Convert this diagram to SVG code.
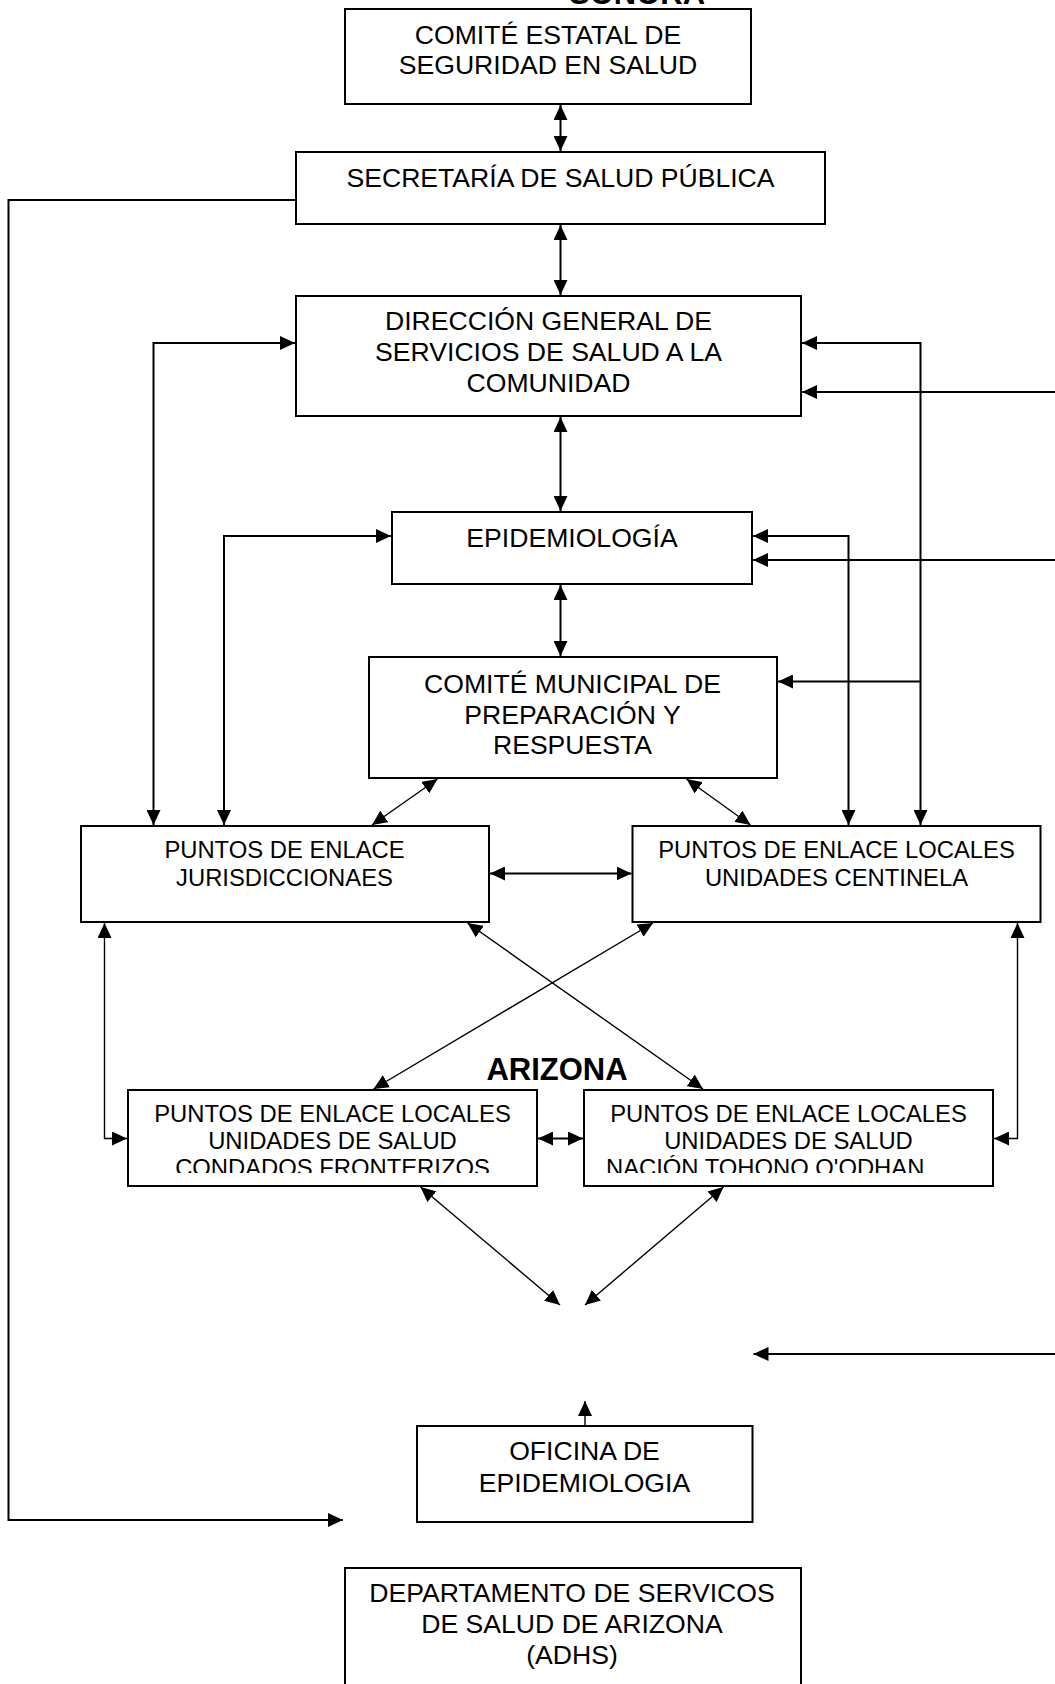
<svg xmlns="http://www.w3.org/2000/svg" width="1055" height="1684" viewBox="0 0 1055 1684">
<style>
.box{fill:#fff;stroke:#000;stroke-width:2}
.t{font-family:"Liberation Sans",Arial,sans-serif;font-size:26.6px;fill:#000;text-anchor:middle}
.s{font-family:"Liberation Sans",Arial,sans-serif;font-size:23.8px;fill:#000;text-anchor:middle}
.h{font-family:"Liberation Sans",Arial,sans-serif;font-size:31px;font-weight:bold;fill:#000;text-anchor:middle}
.c{fill:none;stroke:#000;stroke-width:2}
.d{fill:none;stroke:#000;stroke-width:1.4}
.e{marker-end:url(#ah)}
.b{marker-start:url(#ah);marker-end:url(#ah)}
</style>
<defs>
<marker id="ah" viewBox="0 0 15 14" refX="15" refY="7" markerWidth="15" markerHeight="14" markerUnits="userSpaceOnUse" orient="auto-start-reverse">
<path d="M0,0 L15,7 L0,14 Z" fill="#000"/>
</marker>
<clipPath id="clipL"><rect x="128" y="1090" width="409" height="83"/></clipPath>
<clipPath id="clipR"><rect x="584" y="1090" width="409" height="83"/></clipPath>
</defs>
<rect width="1055" height="1684" fill="#fff"/>

<g id="labels">
<text class="h" x="637" y="4">SONORA</text>
<text class="h" x="557" y="1080">ARIZONA</text>
</g>

<g id="connectors">
<line class="c b" x1="560.5" y1="105" x2="560.5" y2="151"/>
<line class="c b" x1="560.5" y1="225" x2="560.5" y2="295"/>
<line class="c b" x1="560.5" y1="417" x2="560.5" y2="511"/>
<line class="c b" x1="560.5" y1="585" x2="560.5" y2="656"/>
<path class="c b" d="M295 343 H153.5 V825"/>
<path class="c b" d="M391 536 H224 V825"/>
<path class="c b" d="M802 343 H920.5 V825"/>
<path class="c e" d="M920.5 681.5 H778"/>
<path class="c b" d="M753 536 H848.5 V825"/>
<path class="c e" d="M1055 392 H802"/>
<path class="c e" d="M1055 560 H753"/>
<path class="d b" d="M437.5 779 L372 825"/>
<path class="d b" d="M686.5 779 L750.5 825"/>
<path class="c b" d="M490 873.5 H631.5"/>
<path class="d b" d="M104.5 923 V1138.5 H127"/>
<path class="d b" d="M1017.5 923 V1138.5 H994"/>
<path class="d b" d="M467.5 923 L703 1089"/>
<path class="d b" d="M653 923 L373.5 1089"/>
<path class="c b" d="M538 1138.5 H583"/>
<path class="d b" d="M420.5 1187 L560 1305"/>
<path class="d b" d="M723.5 1187 L585 1305"/>
<path class="c e" d="M1055 1354 H753.5"/>
<path class="d e" d="M585 1425 V1401"/>
<path class="c e" d="M296 200 H8.5 V1520 H343"/>
</g>

<g id="n1">
<rect class="box" x="345" y="9" width="406" height="95"/>
<text class="t" x="548" y="43.5">COMITÉ ESTATAL DE</text>
<text class="t" x="548" y="73.5">SEGURIDAD EN SALUD</text>
</g>
<g id="n2">
<rect class="box" x="296" y="152" width="529" height="72"/>
<text class="t" x="560.5" y="187">SECRETARÍA DE SALUD PÚBLICA</text>
</g>
<g id="n3">
<rect class="box" x="296" y="296" width="505" height="120"/>
<text class="t" x="548.5" y="330">DIRECCIÓN GENERAL DE</text>
<text class="t" x="548.5" y="361">SERVICIOS DE SALUD A LA</text>
<text class="t" x="548.5" y="391.5">COMUNIDAD</text>
</g>
<g id="n4">
<rect class="box" x="392" y="512" width="360" height="72"/>
<text class="t" x="572" y="546.5">EPIDEMIOLOGÍA</text>
</g>
<g id="n5">
<rect class="box" x="369" y="657" width="408" height="121"/>
<text class="t" x="572.5" y="692.5">COMITÉ MUNICIPAL DE</text>
<text class="t" x="572.5" y="723.5">PREPARACIÓN Y</text>
<text class="t" x="572.5" y="754">RESPUESTA</text>
</g>
<g id="n6">
<rect class="box" x="81" y="826" width="408" height="96"/>
<text class="s" x="284.5" y="858">PUNTOS DE ENLACE</text>
<text class="s" x="284.5" y="886">JURISDICCIONAES</text>
</g>
<g id="n7">
<rect class="box" x="632.5" y="826" width="408" height="96"/>
<text class="s" x="836.5" y="858">PUNTOS DE ENLACE LOCALES</text>
<text class="s" x="836.5" y="886">UNIDADES CENTINELA</text>
</g>
<g id="n8">
<rect class="box" x="128" y="1090" width="409" height="96"/>
<g clip-path="url(#clipL)">
<text class="s" x="332.5" y="1122">PUNTOS DE ENLACE LOCALES</text>
<text class="s" x="332.5" y="1149">UNIDADES DE SALUD</text>
<text class="s" x="332.5" y="1176">CONDADOS FRONTERIZOS</text>
</g>
</g>
<g id="n9">
<rect class="box" x="584" y="1090" width="409" height="96"/>
<g clip-path="url(#clipR)">
<text class="s" x="788.5" y="1122">PUNTOS DE ENLACE LOCALES</text>
<text class="s" x="788.5" y="1149">UNIDADES DE SALUD</text>
<text class="s" x="606" y="1176" style="text-anchor:start">NACIÓN TOHONO O'ODHAN</text>
</g>
</g>
<g id="n10">
<rect class="box" x="417" y="1426" width="335.5" height="96"/>
<text class="t" x="584.5" y="1460">OFICINA DE</text>
<text class="t" x="584.5" y="1491.5">EPIDEMIOLOGIA</text>
</g>
<g id="n11">
<rect class="box" x="345" y="1568" width="456" height="130"/>
<text class="t" x="572" y="1601.5">DEPARTAMENTO DE SERVICOS</text>
<text class="t" x="572" y="1633">DE SALUD DE ARIZONA</text>
<text class="t" x="572" y="1663.5">(ADHS)</text>
</g>
</svg>
